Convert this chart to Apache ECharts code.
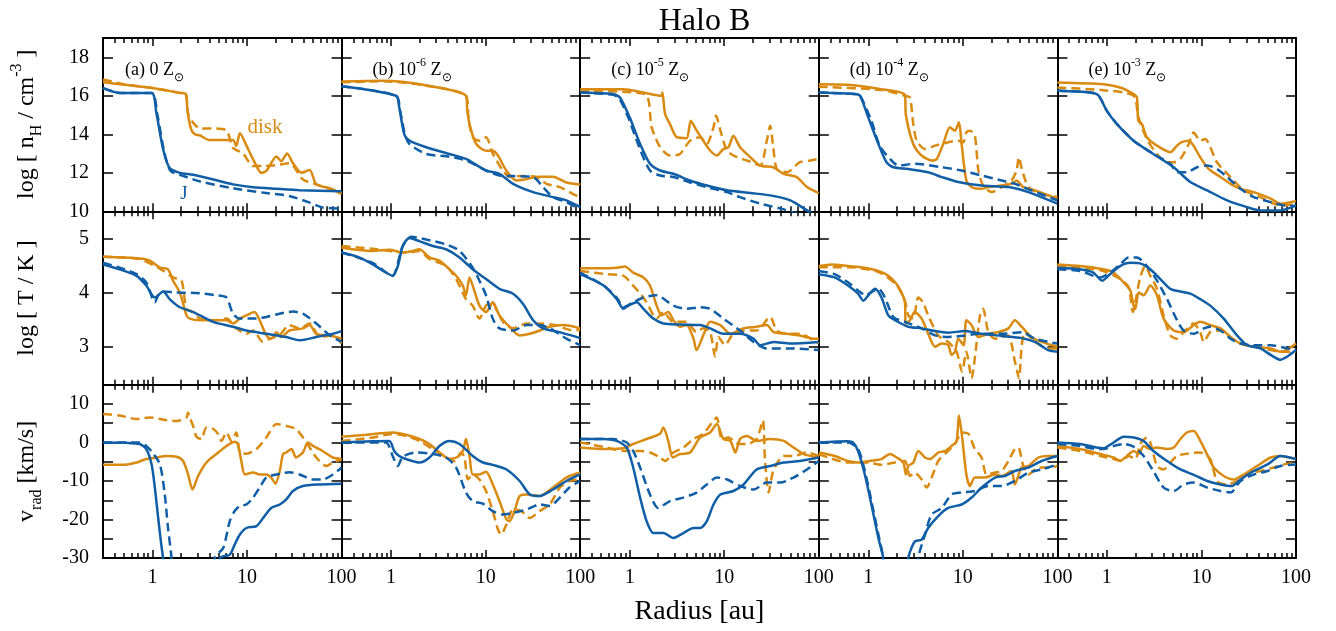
<!DOCTYPE html>
<html>
<head>
<meta charset="utf-8">
<script src="https://cdn.jsdelivr.net/npm/echarts@6/dist/echarts.min.js"></script>
<style>
  html, body { margin: 0; padding: 0; background: #fff; }
  #chart { width: 1336px; height: 631px; }
</style>
</head>
<body>
<div id="chart"></div>
<script>
// ---- Radial profiles, Halo B: [radius (au), value] ----
// log n_H
const nH_a_disk = [[0.3,16.7],[1,16.4],[1.95,16.15],[2.25,16.1],[2.35,15.2],[2.55,14.3],[2.8,14.0],[3.16,13.95],[4.0,13.7],[7.1,13.7],[7.7,13.4],[8.4,14.05],[9.9,13.4],[11.6,12.7],[14.2,12.0],[16,12.1],[20.5,12.85],[23,12.6],[26.5,13.0],[30.6,12.5],[37.7,12.0],[46,12.15],[54,11.4],[75,11.2],[100,10.9]];
const nH_a_diskDash = [[0.3,16.85],[0.5,16.6],[1,16.4],[1.95,16.15],[2.25,16.1],[2.4,15.0],[2.8,14.5],[3.2,14.3],[4.4,14.3],[6.06,14.2],[7.1,13.3],[9.1,13.0],[11.6,12.35],[14.8,12.35],[20.5,12.4],[28.2,12.5],[39,11.65],[54,11.4],[100,10.95]];
const nH_a_J = [[0.3,16.4],[0.45,16.15],[0.98,16.15],[1.1,15.1],[1.3,13.2],[1.52,12.25],[1.95,12.0],[2.7,11.9],[4.4,11.65],[7.1,11.4],[11.6,11.25],[20.5,11.17],[36,11.1],[100,11.05]];
const nH_a_JDash = [[0.3,16.4],[0.45,16.15],[0.98,16.15],[1.13,15.0],[1.33,13.1],[1.55,12.1],[1.95,11.9],[3.2,11.55],[7.1,11.2],[16,10.95],[28,10.8],[46,10.45],[63,10.2],[100,10.15]];

const nH_b_disk = [[0.3,16.74],[0.82,16.78],[2.17,16.57],[6.2,16.0],[6.4,15.2],[6.9,14.35],[7.96,13.5],[10.1,13.15],[11.9,13.15],[13.5,12.9],[16.6,12.1],[21,11.6],[24.9,11.64],[37,11.8],[51.5,11.8],[71.5,11.5],[100,11.4]];
const nH_b_diskDash = [[0.3,16.7],[0.82,16.75],[2.17,16.55],[6.2,16.0],[6.6,14.8],[7.3,13.85],[8.6,13.67],[10.1,13.85],[11.9,13.0],[15.3,12.1],[18,11.8],[24.9,11.83],[34.4,11.78],[44,11.43],[61,11.26],[84,10.9],[100,10.74]];
const nH_b_J = [[0.3,16.5],[1.13,16.0],[1.22,15.4],[1.38,14.0],[1.56,13.67],[2.35,13.33],[4.15,12.98],[6.2,12.72],[10.1,12.12],[14,11.95],[19.5,11.43],[31.8,11.0],[51.5,10.74],[71.5,10.57],[100,10.22]];
const nH_b_JDash = [[0.3,16.5],[1.13,16.0],[1.25,15.2],[1.4,14.0],[1.56,13.5],[2.35,12.98],[4.15,12.84],[6.2,12.64],[10.1,12.12],[14,11.86],[19.5,11.83],[31.8,11.78],[40.5,11.26],[51.5,10.74],[71.5,10.48],[84,10.3],[100,10.14]];

const nH_c_disk = [[0.3,16.34],[0.86,16.34],[1.4,16.17],[2.18,16.0],[2.22,16.17],[2.37,15.05],[2.67,14.53],[3.15,13.85],[4.0,13.8],[4.43,14.7],[5.1,14.2],[6.0,13.67],[7.1,13.16],[8.35,12.9],[9.8,13.24],[11.1,13.33],[12.5,13.93],[14.7,13.33],[18.9,12.81],[24,12.38],[33,12.29],[42.5,11.95],[58.5,11.78],[75,11.26],[100,10.95]];
const nH_c_diskDash = [[0.3,16.26],[1.45,16.09],[1.71,14.36],[2.1,13.33],[2.67,12.9],[3.4,12.98],[4.35,13.67],[5.56,13.85],[6.55,13.5],[7.7,14.36],[8.2,14.97],[9.1,14.2],[10.7,13.16],[13.6,12.81],[17.4,12.64],[24,12.38],[28.2,13.67],[30.6,14.45],[33,13.33],[36,12.2],[46,12.03],[63,12.55],[81,12.64],[100,12.72]];
const nH_c_J = [[0.3,16.17],[0.67,16.09],[0.79,15.91],[1.0,14.88],[1.29,13.5],[1.64,12.47],[2.1,12.12],[2.9,11.95],[4.35,11.6],[6.55,11.34],[10.7,11.09],[18.9,10.95],[30.6,10.83],[50,10.57],[75,10.05],[100,9.7]];
const nH_c_JDash = [[0.3,16.17],[0.67,16.05],[0.78,15.85],[0.98,14.8],[1.27,13.3],[1.64,12.12],[2.1,11.86],[2.9,11.78],[4.35,11.5],[6.55,11.26],[10.7,11.0],[14.7,10.74],[24,10.4],[40,10.14],[58,9.9],[100,9.6]];

const nH_d_disk = [[0.3,16.6],[0.61,16.57],[1.38,16.34],[2.44,16.05],[2.5,15.0],[2.99,13.5],[3.67,12.9],[4.68,12.64],[5.3,12.72],[6.2,13.5],[7.3,14.36],[8.25,14.19],[9.1,14.62],[9.7,13.5],[10.9,11.6],[12.4,11.26],[15.8,11.17],[18.6,11.26],[25.7,11.34],[32.7,11.43],[37,11.6],[43.6,11.26],[58,11.09],[100,10.66]];
const nH_d_diskDash = [[0.3,16.47],[1.38,16.3],[2.44,16.0],[2.76,15.9],[3.0,14.5],[3.25,13.67],[3.98,13.24],[5.08,13.41],[7.0,13.59],[8.9,13.67],[10.1,13.59],[10.9,14.1],[11.9,14.19],[13.4,13.93],[14.6,12.12],[16.4,11.34],[20.2,11.0],[25.7,11.26],[32.7,11.6],[37,12.12],[39.2,12.81],[42,12.2],[49.5,11.26],[68,10.9],[100,10.74]];
const nH_d_J = [[0.3,16.17],[0.72,16.09],[0.82,16.0],[1.0,14.88],[1.28,13.5],[1.56,12.55],[1.84,12.29],[2.65,12.2],[4.3,12.03],[6.0,11.78],[8.95,11.52],[15.8,11.34],[30.3,11.26],[49.5,11.0],[74,10.66],[100,10.4]];
const nH_d_JDash = [[0.3,16.17],[0.72,16.09],[0.82,16.0],[1.08,14.7],[1.32,13.41],[1.7,12.72],[2.07,12.38],[3.1,12.47],[6.0,12.29],[9.7,12.12],[15.8,11.86],[25.7,11.6],[35.5,11.43],[53,11.09],[100,10.57]];

const nH_e_disk = [[0.3,16.69],[0.92,16.6],[1.38,16.43],[1.92,16.09],[2.08,15.91],[2.15,14.7],[2.35,14.53],[2.65,13.85],[3.39,13.41],[4.69,13.07],[5.52,13.41],[6.2,13.59],[7.35,13.67],[8.27,13.41],[9.7,12.81],[11.9,12.2],[15.9,11.78],[20.3,11.43],[25.9,11.17],[35.8,11.0],[54,10.66],[68.6,10.4],[100,10.53]];
const nH_e_diskDash = [[0.3,16.43],[0.92,16.29],[1.92,16.0],[2.15,14.9],[2.65,13.76],[3.39,12.98],[4.33,12.55],[5.09,12.55],[5.98,12.72],[7.35,13.5],[8.27,14.1],[9.7,13.67],[11,13.76],[12.4,13.33],[14.6,12.55],[20.3,11.78],[28,11.09],[42,10.74],[58,10.4],[74,10.31],[100,10.4]];
const nH_e_J = [[0.3,16.26],[0.67,16.17],[0.82,16.0],[1.0,15.22],[1.28,14.53],[1.92,13.67],[3.1,12.98],[5.09,12.29],[7.63,11.52],[11.5,11.09],[18.7,10.57],[30.4,10.22],[42,10.05],[68.5,10.05],[100,10.31]];
const nH_e_JDash = [[0.3,16.26],[0.67,16.17],[0.82,16.0],[1.0,15.22],[1.28,14.53],[1.92,13.67],[3.1,12.98],[4.7,12.47],[5.5,12.03],[7.0,12.03],[9.0,12.29],[11.5,12.38],[14.6,12.2],[18.7,11.78],[25.9,11.17],[35.8,10.74],[54,10.48],[74,10.31],[100,10.28]];

// log T
const T_a_disk = [[0.3,4.66],[0.73,4.63],[0.94,4.59],[1.2,4.46],[1.46,4.43],[1.65,4.22],[1.95,4.0],[2.29,3.58],[2.48,3.52],[3.16,3.49],[6.06,3.49],[7.1,3.43],[8.4,3.52],[9.85,3.58],[12,3.64],[13.6,3.49],[16,3.21],[18,3.15],[20.5,3.27],[23,3.18],[28,3.3],[39,3.34],[46,3.4],[54,3.24],[75,3.21],[100,3.15]];
const T_a_diskDash = [[0.3,4.66],[0.73,4.62],[1.2,4.44],[1.65,4.28],[2.03,4.22],[2.29,3.7],[2.69,3.64],[3.16,3.52],[4.4,3.49],[6.06,3.52],[7.7,3.34],[9.85,3.24],[11.6,3.3],[14.7,3.09],[17.4,3.15],[22,3.21],[28,3.4],[36,3.34],[46,3.43],[59,3.18],[81,3.21],[100,3.06]];
const T_a_J = [[0.3,4.52],[0.45,4.43],[0.68,4.31],[0.86,4.13],[1.06,3.91],[1.3,4.02],[1.52,3.88],[1.95,3.73],[2.7,3.64],[4.38,3.46],[7.1,3.37],[9.85,3.3],[16,3.24],[26,3.18],[36,3.12],[54,3.18],[81,3.24],[100,3.29]];
const T_a_JDash = [[0.3,4.55],[0.45,4.46],[0.68,4.34],[0.86,4.19],[1.06,3.82],[1.15,3.95],[1.3,4.02],[1.8,4.0],[3.16,3.99],[4.74,3.95],[6.06,3.91],[7.1,3.61],[8.4,3.52],[11.6,3.52],[16,3.55],[22,3.61],[30.6,3.65],[39,3.61],[54,3.43],[75,3.21],[100,3.09]];

const T_b_disk = [[0.3,4.83],[0.64,4.77],[0.96,4.79],[1.33,4.74],[1.7,4.77],[1.99,4.8],[2.55,4.65],[3.25,4.59],[4.15,4.43],[4.88,4.31],[5.74,4.13],[6.2,3.95],[6.75,4.28],[7.3,4.13],[8.6,3.76],[10.1,3.64],[11.9,3.82],[14,3.58],[17.9,3.37],[22.9,3.21],[29.3,3.24],[37.3,3.3],[47.6,3.37],[66,3.4],[100,3.34]];
const T_b_diskDash = [[0.3,4.86],[0.64,4.81],[1.44,4.74],[1.99,4.77],[2.55,4.62],[3.82,4.49],[4.88,4.25],[6.2,3.88],[7.3,3.76],[8.6,3.52],[10.1,3.76],[11.9,3.82],[12.9,3.7],[15.3,3.46],[19.5,3.34],[27,3.43],[37.3,3.43],[55,3.4],[80,3.31],[100,3.31]];
const T_b_J = [[0.3,4.74],[0.46,4.65],[0.64,4.52],[0.885,4.37],[1.04,4.31],[1.18,4.49],[1.33,4.86],[1.56,5.01],[1.99,4.95],[2.76,4.86],[3.82,4.8],[5.3,4.65],[7.3,4.43],[10.1,4.25],[14,4.07],[19.5,3.98],[24.9,3.79],[31.8,3.49],[40.5,3.34],[60.6,3.27],[100,3.16]];
const T_b_JDash = [[0.3,4.74],[0.64,4.55],[0.885,4.37],[1.04,4.31],[1.33,4.86],[1.63,5.03],[2.35,4.98],[3.82,4.89],[5.3,4.77],[7.3,4.46],[8.6,4.22],[10.1,3.95],[11.9,3.52],[14,3.34],[19.5,3.3],[27,3.4],[37,3.4],[48,3.34],[71.5,3.15],[100,3.03]];

const T_c_disk = [[0.3,4.45],[0.53,4.45],[0.73,4.46],[0.89,4.48],[1.09,4.37],[1.4,4.28],[1.64,4.13],[1.93,3.76],[2.18,3.58],[2.56,3.64],[2.9,3.49],[3.4,3.37],[4.0,3.4],[4.73,3.15],[5.1,2.94],[6.0,3.21],[7.1,3.46],[9.1,3.4],[11.6,3.24],[15.9,3.34],[22,3.37],[28.2,3.4],[33.3,3.27],[46,3.24],[63,3.21],[88,3.15],[100,3.15]];
const T_c_diskDash = [[0.3,4.4],[0.57,4.34],[0.86,4.31],[1.09,4.13],[1.34,3.95],[1.51,3.82],[1.93,3.52],[2.27,3.64],[2.9,3.46],[4.0,3.46],[5.1,3.27],[6.0,3.34],[7.1,3.27],[8.0,2.82],[8.7,3.18],[10.2,3.03],[12.1,3.21],[15.9,3.3],[22,3.3],[30.6,3.55],[36,3.3],[46,3.24],[63,3.24],[88,3.12],[100,3.06]];
const T_c_J = [[0.3,4.34],[0.53,4.13],[0.73,3.88],[0.86,3.7],[0.97,3.76],[1.19,3.82],[1.4,3.7],[1.78,3.52],[2.27,3.43],[3.4,3.41],[5.56,3.4],[7.1,3.34],[9.8,3.24],[14.7,3.24],[20.4,3.15],[24,3.03],[33.3,3.09],[50,3.06],[100,3.09]];
const T_c_JDash = [[0.3,4.37],[0.53,4.13],[0.73,3.91],[0.86,3.73],[1.09,3.82],[1.4,3.91],[1.93,3.95],[2.9,3.76],[4.0,3.7],[5.56,3.73],[7.1,3.7],[9.8,3.52],[14.7,3.3],[20.4,3.09],[28,2.97],[50,2.97],[100,2.94]];

const T_d_disk = [[0.3,4.49],[0.41,4.52],[0.61,4.49],[0.92,4.46],[1.28,4.4],[1.63,4.31],[1.99,4.16],[2.25,4.0],[2.44,3.82],[2.5,3.43],[2.76,3.49],[3.1,3.64],[3.67,3.52],[4.3,3.24],[5.08,3.0],[5.98,3.06],[7.0,3.03],[7.6,2.85],[8.25,2.91],[8.95,3.15],[10.2,3.03],[10.9,3.49],[12.4,3.4],[14.5,3.18],[18.6,3.24],[23.6,3.27],[30.3,3.34],[35.5,3.49],[41.8,3.37],[53,3.18],[68,3.09],[100,3.0]];
const T_d_diskDash = [[0.3,4.47],[0.61,4.47],[1.28,4.38],[1.99,4.14],[2.44,3.85],[2.65,3.58],[2.99,3.52],[3.38,3.91],[3.8,3.82],[4.3,3.58],[5.5,3.21],[7.0,3.09],[8.6,2.91],[9.8,2.54],[10.9,2.91],[12.4,2.42],[13.4,2.79],[15.2,3.58],[16.4,3.7],[18.6,3.27],[21.8,3.15],[25.7,3.18],[30.3,3.21],[35.5,2.73],[39.2,2.42],[42,3.03],[45.4,3.27],[58,3.09],[80,2.97],[100,2.97]];
const T_d_J = [[0.3,4.34],[0.44,4.28],[0.61,4.13],[0.78,3.98],[0.89,3.85],[1.0,3.95],[1.18,4.07],[1.38,3.91],[1.63,3.58],[1.92,3.49],[2.65,3.37],[3.67,3.34],[5.08,3.29],[7.0,3.26],[10.6,3.29],[15.8,3.24],[25.7,3.2],[42,3.16],[58,3.09],[80,2.94],[100,2.91]];
const T_d_JDash = [[0.3,4.4],[0.44,4.34],[0.61,4.19],[0.78,4.04],[0.95,3.95],[1.08,4.01],[1.28,4.07],[1.5,3.91],[1.84,3.55],[2.44,3.46],[3.67,3.34],[5.08,3.21],[7.0,3.18],[10.6,3.21],[15.8,3.24],[25.7,3.24],[42,3.27],[58,3.15],[80,3.09],[100,3.06]];

const T_e_disk = [[0.3,4.52],[0.52,4.49],[0.92,4.43],[1.18,4.37],[1.5,4.19],[1.77,4.04],[1.92,3.76],[2.0,3.7],[2.17,4.0],[2.45,3.95],[2.88,4.13],[3.39,3.95],[3.98,3.52],[5.09,3.3],[6.5,3.27],[8.27,3.4],[9.7,3.46],[12.4,3.4],[15.9,3.34],[20.3,3.18],[25.9,3.06],[35.8,3.0],[54,2.97],[68,2.91],[81,2.95],[100,3.06]];
const T_e_diskDash = [[0.3,4.49],[0.52,4.46],[0.92,4.4],[1.38,4.25],[1.7,4.1],[1.88,3.64],[2.0,3.82],[2.25,4.28],[2.55,4.49],[2.88,4.31],[3.39,4.07],[3.98,3.58],[4.69,3.21],[5.52,3.15],[6.5,3.27],[8.27,3.43],[9.7,3.27],[10.6,3.09],[12.4,3.27],[15.9,3.3],[22,3.12],[30.4,3.03],[45.6,2.97],[68,2.91],[100,2.91]];
const T_e_J = [[0.3,4.46],[0.52,4.43],[0.72,4.37],[0.89,4.22],[1.08,4.34],[1.38,4.49],[1.77,4.55],[2.25,4.54],[2.88,4.43],[3.67,4.25],[4.69,4.07],[5.98,4.02],[7.63,3.98],[9.7,3.88],[12.4,3.76],[17.2,3.52],[23.8,3.21],[30.4,3.03],[42,2.97],[54,2.85],[68.5,2.76],[81,2.82],[100,2.94]];
const T_e_JDash = [[0.3,4.43],[0.52,4.4],[0.85,4.28],[1.08,4.37],[1.38,4.52],[1.7,4.65],[2.08,4.65],[2.65,4.49],[3.39,4.22],[4.33,3.88],[5.52,3.49],[6.5,3.3],[8.27,3.24],[10.6,3.34],[12.4,3.37],[15.9,3.3],[20.3,3.15],[25.9,3.06],[35.8,3.03],[54,3.03],[81,2.97],[100,2.94]];

// v_rad (km/s)
const v_a_disk = [[0.3,-5.8],[0.49,-5.8],[0.68,-5.2],[0.86,-4.3],[1.1,-3.9],[1.4,-3.5],[1.8,-3.7],[2.11,-4.8],[2.38,-8.3],[2.65,-12.2],[3.04,-8.7],[3.72,-5.2],[4.75,-3.0],[6.06,-0.9],[7.4,0.2],[8.0,-0.4],[8.7,-4.8],[9.5,-8.3],[11.6,-7.8],[13.6,-8.3],[16,-8.3],[18,-9.1],[20,-10.7],[22.2,-7.4],[24,-3.0],[26,-2.6],[29.5,-1.7],[33,-3.9],[39,-2.6],[44,0],[50,-0.9],[63,-2.2],[81,-3.9],[100,-4.3]];
const v_a_diskDash = [[0.3,7.4],[0.45,7.0],[0.68,6.1],[0.94,6.5],[1.4,5.8],[1.8,5.6],[2.29,6.5],[2.38,7.8],[2.48,6.5],[2.69,4.3],[2.92,1.5],[3.3,0.9],[3.72,3.9],[4.4,3.5],[4.95,2.2],[5.37,0.4],[6.06,2.6],[6.84,0.4],[7.7,2.6],[8.4,-2.6],[9.85,-2.9],[12.6,-1.7],[16,1.3],[20.5,4.8],[26,4.3],[33,3.5],[42.5,0],[54,-3.9],[69,-6.1],[81,-5.2],[100,-4.3]];
const v_a_J = [[0.3,0],[0.53,-0.1],[0.73,-0.4],[0.86,-1.7],[0.98,-5.7],[1.06,-11.7],[1.15,-19.6],[1.24,-26.5],[1.32,-31.7],[1.45,-45],[4.6,-45],[5.16,-30],[6.57,-29.1],[7.4,-26.5],[8.4,-23.9],[9.85,-22.2],[12.6,-21.7],[14.8,-19.6],[18,-17],[22.2,-16.1],[26,-14.8],[30.6,-12.6],[39,-11.3],[59,-10.9],[100,-10.7]];
const v_a_JDash = [[0.3,0],[0.73,0],[0.86,-0.9],[1.0,-2.6],[1.2,-5.7],[1.35,-13.5],[1.46,-22.2],[1.59,-30],[1.7,-45],[4.2,-45],[4.55,-30],[5.6,-27.4],[6.57,-20.4],[7.4,-17.8],[8.4,-16.5],[9.85,-16.1],[11.6,-14.3],[13.6,-11.7],[16,-9.1],[20.5,-8.3],[28,-7.7],[36,-8.3],[50,-9.6],[63,-9.6],[81,-8.3],[100,-6.5]];

const v_b_disk = [[0.3,1.5],[0.54,2.0],[1.04,2.6],[1.44,2.0],[2.0,0.9],[2.55,-0.4],[3.25,-2.6],[4.15,-4.3],[5.1,-3.7],[5.75,-2.2],[6.2,0.9],[6.75,-3.5],[7.3,-8.3],[8.6,-8.3],[10.1,-7.6],[11.9,-10.9],[14,-15.2],[16.6,-20],[17.9,-20.4],[20.2,-17.8],[22.9,-13.9],[27,-13.5],[37.3,-13.9],[51.5,-11.7],[71.5,-9.1],[100,-7.8]];
const v_b_diskDash = [[0.3,0.4],[0.64,1.3],[1.04,2.2],[1.44,1.7],[2.0,0.4],[2.76,-1.7],[3.82,-3.9],[4.69,-4.8],[5.5,-2.6],[5.98,-3.9],[6.5,-9.6],[7.3,-8.3],[8.6,-9.6],[10.1,-12.6],[11.9,-17.8],[13.5,-22.6],[14.6,-23.9],[16.6,-21.3],[19.5,-17.4],[23.9,-17.8],[29.3,-19.6],[37.3,-17.8],[47.6,-16.1],[61,-11.7],[77,-10],[100,-9.6]];
const v_b_J = [[0.3,0],[0.64,0.3],[0.96,0.4],[1.08,-2.2],[1.22,-3.5],[1.44,-4.3],[2.0,-5.2],[2.55,-3.9],[3.25,-0.9],[4.15,0.4],[5.3,-0.4],[7.3,-3.5],[9.35,-5.2],[11.9,-5.8],[16.6,-7.0],[22.9,-10],[29.3,-13.5],[37.3,-13.9],[51.5,-12.2],[71.5,-10],[100,-8.3]];
const v_b_JDash = [[0.3,0],[0.88,0],[1.04,-3.5],[1.18,-6.1],[1.33,-3.7],[1.84,-2.6],[2.76,-3.0],[3.82,-3.9],[4.88,-6.5],[6.2,-13.0],[7.3,-15.2],[9.35,-15.9],[11.9,-17.8],[15.3,-18.7],[19.5,-18.3],[27,-17.4],[37.3,-16.1],[47.6,-16.5],[61,-14.3],[77,-11.7],[100,-10]];

const v_c_disk = [[0.3,-1.3],[0.57,-1.7],[0.86,-1.5],[1.09,-0.4],[1.51,0.9],[2.1,2.3],[2.27,3.9],[2.56,0.4],[2.86,-3.9],[3.4,-3.0],[4.35,-2.6],[5.56,1.3],[7.1,2.6],[8.35,4.8],[9.8,0.9],[11.6,0.4],[13.1,-2.6],[14.7,0.9],[17.4,1.7],[22,0.4],[30.6,0.9],[42.5,0.4],[54,-1.3],[69,-3.0],[100,-3.9]];
const v_c_diskDash = [[0.3,0],[0.57,-1.3],[0.86,-2.2],[1.29,-2.2],[1.64,-2.6],[2.1,-3.9],[2.37,-4.8],[2.9,-2.6],[3.7,-1.3],[4.73,0.9],[6.0,2.2],[7.7,5.7],[8.35,6.5],[9.45,0.9],[11.1,1.3],[13.1,0],[14.7,-0.4],[17.4,-0.4],[22,0.9],[25.6,5.7],[27,-4.8],[29.5,-13],[33,-7.4],[42.5,-3.5],[54,-3.5],[75,-2.6],[100,-3.5]];
const v_c_J = [[0.3,0.9],[0.53,0.9],[0.73,0.4],[0.93,-1.3],[1.09,-6.5],[1.29,-14.3],[1.51,-20.4],[1.78,-23.5],[2.27,-23.5],[2.9,-24.8],[3.7,-23.5],[4.73,-22.2],[5.56,-22.2],[6.55,-20.4],[7.7,-16.1],[9.1,-13.5],[12.5,-12.6],[16,-10.9],[22,-7.0],[30.6,-6.1],[42.5,-5.2],[63,-4.8],[100,-3.9]];
const v_c_JDash = [[0.3,0.9],[0.67,0.9],[0.93,0],[1.09,-2.2],[1.29,-6.5],[1.64,-13.5],[2.0,-17],[2.67,-15.2],[3.7,-14.3],[5.1,-13],[6.55,-10.9],[8.35,-9.1],[10.7,-9.6],[14.7,-11.3],[20.4,-12.2],[28.2,-10.4],[39,-10.4],[54,-9.1],[75,-7.0],[100,-4.8]];

const v_d_disk = [[0.3,-2.6],[0.44,-3.5],[0.61,-4.8],[0.78,-5.2],[1.18,-4.6],[1.38,-4.3],[1.7,-3.0],[2.0,-3.9],[2.35,-5.2],[2.5,-8.3],[2.65,-6.1],[3.0,-5.2],[3.38,-2.2],[3.98,-3.9],[4.5,-4.3],[5.5,-2.6],[6.5,-2.2],[7.6,-0.9],[8.6,0.4],[9.1,7.0],[9.8,1.7],[10.9,-8.3],[11.9,-11.3],[13.4,-9.1],[17.1,-9.1],[21.9,-8.3],[25.7,-8.7],[32.7,-7.4],[35.5,-10.9],[41.8,-6.5],[49.5,-6.1],[63,-3.9],[80,-3.5],[100,-3.5]];
const v_d_diskDash = [[0.3,-3.0],[0.61,-5.2],[1.0,-5.2],[1.38,-5.8],[1.91,-5.2],[2.44,-4.8],[2.76,-8.7],[3.1,-7.8],[3.67,-9.6],[4.15,-11.7],[4.68,-9.1],[5.5,-4.8],[6.7,-2.6],[8.25,-0.4],[9.8,2.6],[11.5,2.2],[13.4,-1.7],[15.8,-3.9],[17.8,-8.3],[21.9,-7.8],[25.7,-7.4],[30.3,-4.8],[35.5,-1.7],[38.6,-1.3],[43.6,-6.1],[49.5,-8.3],[63,-6.5],[80,-6.5],[100,-6.1]];
const v_d_J = [[0.3,0],[0.61,0.3],[0.69,0],[0.78,-2.2],[0.92,-8.3],[1.08,-16.1],[1.28,-24.8],[1.44,-30],[1.55,-40],[2.45,-40],[2.65,-30],[3.1,-25.7],[3.67,-25.2],[4.3,-22.2],[5.5,-19.1],[7.0,-17],[9.7,-16.1],[12.4,-14.3],[15.8,-11.7],[21.9,-9.1],[27.9,-8.7],[35.5,-7.4],[49.5,-6.5],[68,-4.8],[100,-3.5]];
const v_d_JDash = [[0.3,0],[0.61,0],[0.78,-1.7],[0.92,-7.4],[1.08,-15.2],[1.28,-23.9],[1.44,-30],[1.55,-40],[3.2,-40],[3.38,-30],[3.98,-23.9],[4.68,-18.7],[5.98,-17.0],[7.6,-13.5],[9.7,-13.0],[13.4,-12.6],[18.6,-11.3],[25.7,-11.3],[35.5,-10],[49.5,-7.8],[68,-7.0],[100,-5.7]];

const v_e_disk = [[0.3,-0.9],[0.52,-1.7],[0.85,-3.0],[1.18,-3.9],[1.38,-4.8],[1.63,-3.5],[1.92,-2.2],[2.17,-3.0],[2.45,-0.9],[2.88,-1.7],[3.39,-1.3],[4.33,-1.7],[5.09,-1.3],[6.0,0.9],[7.0,2.6],[8.3,3.0],[9.75,0.4],[11.9,-3.9],[13.5,-6.5],[17.2,-8.7],[22,-9.6],[28,-8.3],[38.7,-6.1],[54,-3.9],[68,-3.5],[100,-4.3]];
const v_e_diskDash = [[0.3,-1.3],[0.52,-2.2],[0.85,-3.5],[1.18,-4.3],[1.44,-4.8],[1.7,-3.5],[2.0,-4.3],[2.25,-0.4],[2.65,1.3],[2.88,0],[3.39,-6.1],[3.98,-7.0],[4.69,-5.2],[5.52,-3.5],[7.0,-2.9],[9.7,-2.6],[12.4,-4.3],[14.6,-10],[18.7,-10.9],[23.8,-10],[30.4,-8.3],[42,-7.4],[58,-6.5],[74,-5.7],[100,-5.2]];
const v_e_J = [[0.3,0],[0.52,-0.4],[0.78,-1.3],[0.92,-1.5],[1.18,0],[1.5,1.5],[1.92,1.3],[2.45,0.4],[3.1,-2.2],[4.33,-4.8],[6.0,-7.0],[8.3,-8.4],[11.5,-10],[15.9,-10.9],[21,-11.3],[25.9,-9.6],[35.8,-7.4],[50,-5.7],[68.5,-3.5],[100,-4.3]];
const v_e_JDash = [[0.3,-0.4],[0.52,-0.9],[0.78,-1.7],[0.92,-1.7],[1.18,-0.9],[1.5,-0.4],[1.92,-1.1],[2.45,-3.5],[3.1,-7.4],[3.98,-11.7],[5.09,-12.6],[6.5,-10.9],[8.3,-10.4],[11.5,-11.7],[15.9,-12.6],[20.3,-13],[25.9,-10],[35.8,-8.3],[50,-7.4],[68.5,-6.1],[100,-5.7]];

// ---- Axis values ----
const R_MIN = 0.3, R_MAX = 100;
const xMajorTicks = [1, 10, 100];
const xMinorTicks = [0.4,0.5,0.6,0.7,0.8,0.9,2,3,4,5,6,7,8,9,20,30,40,50,60,70,80,90];
const nHTicks = [10, 12, 14, 16, 18];
const TTicks = [3, 4, 5];
const vTicks = [-30, -25, -20, -15, -10, -5, 0, 5, 10, 15];
const vLabels = [-30, -20, -10, 0, 10];
const panelTags = ['(a)', '(b)', '(c)', '(d)', '(e)'];
const metalExponents = [null, '-6', '-5', '-4', '-3'];

// ---- Styling ----
const ORANGE = '#d98a10';
const BLUE = '#0f5ea6';
const SERIF = '"Liberation Serif", "Times New Roman", Times, serif';

const rows = [
  { min: 10, max: 19, ticks: nHTicks, labels: nHTicks,
    panels: [[nH_a_disk, nH_a_diskDash, nH_a_J, nH_a_JDash], [nH_b_disk, nH_b_diskDash, nH_b_J, nH_b_JDash],
             [nH_c_disk, nH_c_diskDash, nH_c_J, nH_c_JDash], [nH_d_disk, nH_d_diskDash, nH_d_J, nH_d_JDash],
             [nH_e_disk, nH_e_diskDash, nH_e_J, nH_e_JDash]] },
  { min: 2.3, max: 5.5, ticks: TTicks, labels: TTicks,
    panels: [[T_a_disk, T_a_diskDash, T_a_J, T_a_JDash], [T_b_disk, T_b_diskDash, T_b_J, T_b_JDash],
             [T_c_disk, T_c_diskDash, T_c_J, T_c_JDash], [T_d_disk, T_d_diskDash, T_d_J, T_d_JDash],
             [T_e_disk, T_e_diskDash, T_e_J, T_e_JDash]] },
  { min: -30, max: 15, ticks: vTicks, labels: vLabels,
    panels: [[v_a_disk, v_a_diskDash, v_a_J, v_a_JDash], [v_b_disk, v_b_diskDash, v_b_J, v_b_JDash],
             [v_c_disk, v_c_diskDash, v_c_J, v_c_JDash], [v_d_disk, v_d_diskDash, v_d_J, v_d_JDash],
             [v_e_disk, v_e_diskDash, v_e_J, v_e_JDash]] }
];

const PLOT_LEFT = 103, PLOT_TOP = 38, PANEL_W = 238.6, PANEL_H = 173.35;
const log10 = Math.log10;

const grids = [], xAxes = [], yAxes = [], series = [];
const frameLine = { show: true, onZero: false, lineStyle: { color: '#000', width: 2 } };
const noLine = { show: false, onZero: false };
const tickStyle = { color: '#000', width: 1.5 };

rows.forEach((row, r) => {
  row.panels.forEach((lines, c) => {
    const g = grids.length;
    grids.push({ left: PLOT_LEFT + c * PANEL_W, top: PLOT_TOP + r * PANEL_H, width: PANEL_W, height: PANEL_H,
                 containLabel: false, outerBoundsMode: 'none' });
    const isBottom = r === rows.length - 1;
    const xBase = { type: 'value', gridIndex: g, min: log10(R_MIN), max: log10(R_MAX), splitLine: { show: false } };
    // bottom edge: major ticks with labels, then minor ticks
    xAxes.push(Object.assign({}, xBase, {
      position: 'bottom', axisLine: frameLine,
      axisTick: { show: true, inside: true, length: 8, customValues: xMajorTicks.map(log10), lineStyle: tickStyle },
      axisLabel: { show: isBottom, customValues: xMajorTicks.map(log10), margin: 10, color: '#000', fontSize: 20, fontFamily: SERIF,
                   formatter: v => String(Math.round(Math.pow(10, v))) }
    }));
    xAxes.push(Object.assign({}, xBase, {
      position: 'bottom', axisLine: noLine,
      axisTick: { show: true, inside: true, length: 5, customValues: xMinorTicks.map(log10), lineStyle: tickStyle },
      axisLabel: { show: false }
    }));
    // top edge mirror
    xAxes.push(Object.assign({}, xBase, {
      position: 'top', axisLine: frameLine,
      axisTick: { show: true, inside: true, length: 8, customValues: xMajorTicks.map(log10), lineStyle: tickStyle },
      axisLabel: { show: false }
    }));
    xAxes.push(Object.assign({}, xBase, {
      position: 'top', axisLine: noLine,
      axisTick: { show: true, inside: true, length: 5, customValues: xMinorTicks.map(log10), lineStyle: tickStyle },
      axisLabel: { show: false }
    }));
    const yBase = { type: 'value', gridIndex: g, min: row.min, max: row.max, splitLine: { show: false }, axisLine: frameLine };
    yAxes.push(Object.assign({}, yBase, {
      position: 'left',
      axisTick: { show: true, inside: true, length: 10, customValues: row.ticks, lineStyle: tickStyle },
      axisLabel: { show: c === 0, customValues: row.labels, margin: 14, color: '#000', fontSize: 20, fontFamily: SERIF }
    }));
    yAxes.push(Object.assign({}, yBase, {
      position: 'right',
      axisTick: { show: true, inside: true, length: 10, customValues: row.ticks, lineStyle: tickStyle },
      axisLabel: { show: false }
    }));

    const xIdx = g * 4, yIdx = g * 2;
    const [disk, diskDash, jet, jetDash] = lines;
    const specs = [
      [diskDash, ORANGE, [9, 5]],
      [disk, ORANGE, 'solid'],
      [jetDash, BLUE, [9, 5]],
      [jet, BLUE, 'solid']
    ];
    specs.forEach(([pts, color, type]) => {
      series.push({
        type: 'line', xAxisIndex: xIdx, yAxisIndex: yIdx,
        data: pts.map(p => [log10(p[0]), p[1]]),
        showSymbol: false, smooth: 0.25, clip: true, silent: true,
        lineStyle: { color: color, width: 2.5, type: type, cap: 'butt' },
        itemStyle: { color: color }
      });
    });
  });
});

// ---- Text annotations ----
const graphics = [];
const richBase = (size) => ({
  m: { fontSize: size, fontFamily: SERIF, fill: '#000', lineHeight: Math.round(size * 1.5) },
  s: { fontSize: Math.round(size * 0.68), fontFamily: SERIF, fill: '#000', verticalAlign: 'bottom', lineHeight: Math.round(size * 0.68) },
  p: { fontSize: Math.round(size * 0.68), fontFamily: SERIF, fill: '#000', verticalAlign: 'top', lineHeight: Math.round(size * 0.68) }
});

// y-axis titles
const yTitles = [
  { text: '{m|log [ n}{s|H}{m| / cm}{p|-3}{m| ]}', cy: PLOT_TOP + 0.5 * PANEL_H - 0.5 },
  { text: '{m|log [ T / K ]}', cy: PLOT_TOP + 1.5 * PANEL_H },
  { text: '{m|v}{s|rad}{m| [km/s]}', cy: PLOT_TOP + 2.5 * PANEL_H }
];
yTitles.forEach(t => graphics.push({
  type: 'text', x: 27, y: t.cy, rotation: Math.PI / 2,
  style: { text: t.text, rich: richBase(24), align: 'center', verticalAlign: 'middle' }
}));

// panel tags
panelTags.forEach((tag, c) => {
  const exp = metalExponents[c];
  const text = exp === null
    ? `{m|${tag} 0 Z}{s|\u2299}`
    : `{m|${tag} 10}{p|${exp}}{m| Z}{s|\u2299}`;
  graphics.push({
    type: 'text', x: PLOT_LEFT + c * PANEL_W + (c === 0 ? 22 : 31), y: 70,
    style: { text: text, rich: richBase(18), align: 'left', verticalAlign: 'middle' }
  });
});

// curve annotations in panel (a)
graphics.push({ type: 'text', x: 265, y: 127,
  style: { text: 'disk', fontSize: 21, fontFamily: SERIF, fill: ORANGE, align: 'center', verticalAlign: 'middle' } });
graphics.push({ type: 'text', x: 184, y: 194,
  style: { text: 'J', fontSize: 19, fontFamily: SERIF, fill: BLUE, align: 'center', verticalAlign: 'middle' } });

// x-axis title
graphics.push({ type: 'text', x: PLOT_LEFT + 2.5 * PANEL_W, y: 612,
  style: { text: 'Radius [au]', fontSize: 28, fontFamily: SERIF, fill: '#000', align: 'center', verticalAlign: 'middle' } });

const chart = echarts.init(document.getElementById('chart'), null, { renderer: 'canvas' });
chart.setOption({
  backgroundColor: '#fff',
  animation: false,
  title: {
    text: 'Halo B', left: PLOT_LEFT + 2.5 * PANEL_W, textAlign: 'center', top: 1,
    textStyle: { fontFamily: SERIF, fontSize: 32, fontWeight: 'normal', color: '#000' }
  },
  grid: grids,
  xAxis: xAxes,
  yAxis: yAxes,
  series: series,
  graphic: graphics
});
</script>
</body>
</html>
